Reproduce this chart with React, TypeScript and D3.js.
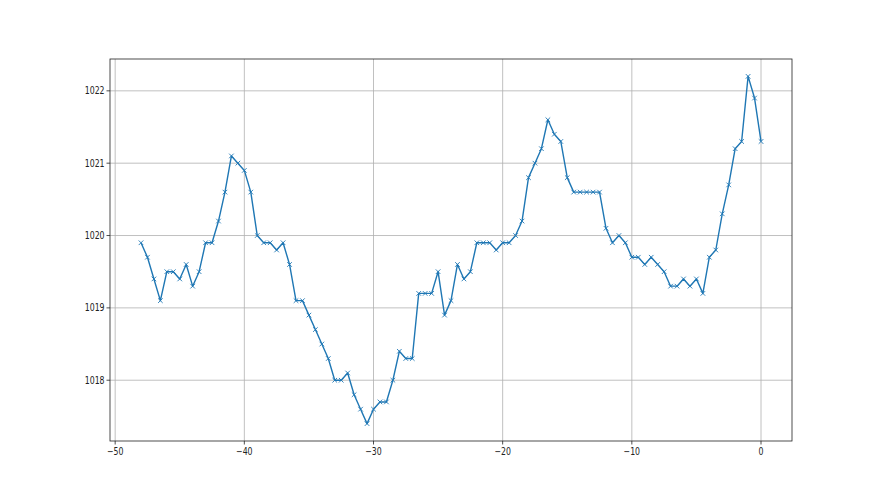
import { useEffect, useRef } from "react"
import * as d3 from "d3"

// hours before now, every half hour
const hours: number[] = d3.range(-48, 0.001, 0.5)

// pressure readings (hPa)
const pressure: number[] = [
  1019.9, 1019.7, 1019.4, 1019.1, 1019.5, 1019.5, 1019.4, 1019.6, 1019.3, 1019.5,
  1019.9, 1019.9, 1020.2, 1020.6, 1021.1, 1021.0, 1020.9, 1020.6, 1020.0, 1019.9,
  1019.9, 1019.8, 1019.9, 1019.6, 1019.1, 1019.1, 1018.9, 1018.7, 1018.5, 1018.3,
  1018.0, 1018.0, 1018.1, 1017.8, 1017.6, 1017.4, 1017.6, 1017.7, 1017.7, 1018.0,
  1018.4, 1018.3, 1018.3, 1019.2, 1019.2, 1019.2, 1019.5, 1018.9, 1019.1, 1019.6,
  1019.4, 1019.5, 1019.9, 1019.9, 1019.9, 1019.8, 1019.9, 1019.9, 1020.0, 1020.2,
  1020.8, 1021.0, 1021.2, 1021.6, 1021.4, 1021.3, 1020.8, 1020.6, 1020.6, 1020.6,
  1020.6, 1020.6, 1020.1, 1019.9, 1020.0, 1019.9, 1019.7, 1019.7, 1019.6, 1019.7,
  1019.6, 1019.5, 1019.3, 1019.3, 1019.4, 1019.3, 1019.4, 1019.2, 1019.7, 1019.8,
  1020.3, 1020.7, 1021.2, 1021.3, 1022.2, 1021.9, 1021.3,
]

const xTicks = [-50, -40, -30, -20, -10, 0]
const yTicks = [1018, 1019, 1020, 1021, 1022]

export default function App() {
  const svgRef = useRef<SVGSVGElement>(null)

  useEffect(() => {
    if (!svgRef.current) return
    d3.select(svgRef.current).selectAll("*").remove()

    const width = 880
    const height = 495
    const margin = { top: 59, right: 88, bottom: 54, left: 110 }
    const w = width - margin.left - margin.right
    const h = height - margin.top - margin.bottom

    const data = hours.map((t, i) => ({ t, p: pressure[i] }))

    const svg = d3.select(svgRef.current).attr("width", width).attr("height", height)
    svg.append("rect").attr("width", width).attr("height", height).attr("fill", "white")

    const g = svg.append("g").attr("transform", `translate(${margin.left},${margin.top})`)

    // matplotlib-style 5% margins
    const [x0, x1] = d3.extent(hours) as [number, number]
    const xPad = (x1 - x0) * 0.05
    const x = d3.scaleLinear().domain([x0 - xPad, x1 + xPad]).range([0, w])
    const [y0, y1] = d3.extent(pressure) as [number, number]
    const yPad = (y1 - y0) * 0.05
    const y = d3.scaleLinear().domain([y0 - yPad, y1 + yPad]).range([h, 0])

    // grid
    g.selectAll(".gx")
      .data(xTicks)
      .enter()
      .append("line")
      .attr("x1", (d) => x(d))
      .attr("x2", (d) => x(d))
      .attr("y1", 0)
      .attr("y2", h)
      .attr("stroke", "#b0b0b0")
      .attr("stroke-width", 0.8)
    g.selectAll(".gy")
      .data(yTicks)
      .enter()
      .append("line")
      .attr("x1", 0)
      .attr("x2", w)
      .attr("y1", (d) => y(d))
      .attr("y2", (d) => y(d))
      .attr("stroke", "#b0b0b0")
      .attr("stroke-width", 0.8)

    // line
    const line = d3
      .line<{ t: number; p: number }>()
      .x((d) => x(d.t))
      .y((d) => y(d.p))
    g.append("path")
      .datum(data)
      .attr("d", line)
      .attr("fill", "none")
      .attr("stroke", "#1f77b4")
      .attr("stroke-width", 1.4)
      .attr("stroke-linejoin", "round")

    // x markers
    const m = 2.3
    g.selectAll(".mk")
      .data(data)
      .enter()
      .append("path")
      .attr("transform", (d) => `translate(${x(d.t)},${y(d.p)})`)
      .attr("d", `M${-m},${-m}L${m},${m}M${-m},${m}L${m},${-m}`)
      .attr("stroke", "#1f77b4")
      .attr("stroke-width", 0.9)

    // frame
    g.append("rect")
      .attr("width", w)
      .attr("height", h)
      .attr("fill", "none")
      .attr("stroke", "#222")
      .attr("stroke-width", 0.8)

    const fmt = (d: number) => String(d).replace("-", "\u2212")

    // x ticks
    const xt = g.selectAll(".xt").data(xTicks).enter().append("g")
      .attr("transform", (d) => `translate(${x(d)},${h})`)
    xt.append("line").attr("y2", 3.5).attr("stroke", "#222").attr("stroke-width", 0.8)
    xt.append("text")
      .attr("y", 14)
      .attr("text-anchor", "middle")
      .attr("transform", "scale(0.78,1)")
      .style("font-family", "DejaVu Sans")
      .style("font-size", "10px")
      .style("fill", "#222")
      .text(fmt)

    // y ticks
    const yt = g.selectAll(".yt").data(yTicks).enter().append("g")
      .attr("transform", (d) => `translate(0,${y(d)})`)
    yt.append("line").attr("x2", -3.5).attr("stroke", "#222").attr("stroke-width", 0.8)
    yt.append("text")
      .attr("x", -7)
      .attr("dy", "0.35em")
      .attr("text-anchor", "end")
      .attr("transform", "scale(0.78,1)")
      .style("font-family", "DejaVu Sans")
      .style("font-size", "10px")
      .style("fill", "#222")
      .text((d) => String(d))
  }, [])

  return (
    <svg
      ref={svgRef}
      style={{ position: "absolute", left: 0, top: 0, display: "block" }}
    ></svg>
  )
}
